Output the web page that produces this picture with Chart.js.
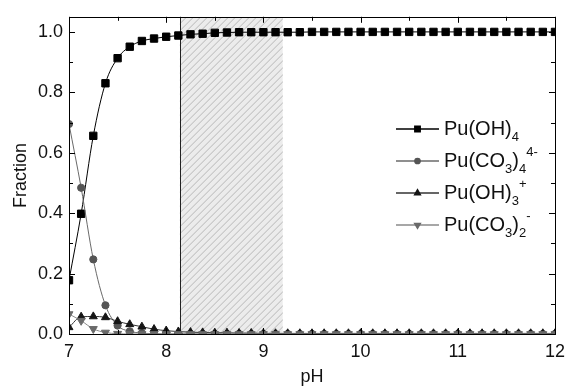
<!DOCTYPE html>
<html>
<head>
<meta charset="utf-8">
<script src="https://cdn.jsdelivr.net/npm/chart.js@4/dist/chart.umd.min.js"></script>
<style>
  html, body { margin: 0; padding: 0; background: #fff; }
</style>
</head>
<body>
<canvas id="specChart" width="572" height="386"></canvas>
<script>
// pH grid and species fractions
const pH = [
  7, 7.125, 7.25, 7.375, 7.5, 7.625, 7.75, 7.875,
  8, 8.125, 8.25, 8.375, 8.5, 8.625, 8.75, 8.875,
  9, 9.125, 9.25, 9.375, 9.5, 9.625, 9.75, 9.875,
  10, 10.125, 10.25, 10.375, 10.5, 10.625, 10.75, 10.875,
  11, 11.125, 11.25, 11.375, 11.5, 11.625, 11.75, 11.875,
  12
];
const puOH4 = [
  0.178, 0.398, 0.656, 0.830, 0.913, 0.951, 0.970, 0.978,
  0.984, 0.988, 0.992, 0.994, 0.997, 0.998, 0.999, 0.999,
  0.999, 0.999, 0.999, 0.999, 1.0, 1.0, 1.0, 1.0,
  1.0, 1.0, 1.0, 1.0, 1.0, 1.0, 1.0, 1.0,
  1.0, 1.0, 1.0, 1.0, 1.0, 1.0, 1.0, 1.0,
  1.0
];
const puCO3_4 = [
  0.695, 0.484, 0.247, 0.095, 0.028, 0.009, 0.003, 0.001,
  0, 0, 0, 0, 0, 0, 0, 0,
  0, 0, 0, 0, 0, 0, 0, 0,
  0, 0, 0, 0, 0, 0, 0, 0,
  0, 0, 0, 0, 0, 0, 0, 0,
  0
];
const puOH3 = [
  0.022, 0.057, 0.058, 0.055, 0.042, 0.032, 0.024, 0.016,
  0.011, 0.008, 0.006, 0.005, 0.004, 0.004, 0.003, 0.003,
  0.002, 0.002, 0.002, 0.002, 0.002, 0.002, 0.002, 0.002,
  0.002, 0.002, 0.002, 0.002, 0.002, 0.002, 0.002, 0.002,
  0.002, 0.002, 0.002, 0.002, 0.002, 0.002, 0.002, 0.002,
  0.002
];
const puCO3_2 = [
  0.066, 0.044, 0.017, 0.005, 0.001, 0, 0, 0,
  0, 0, 0, 0, 0, 0, 0, 0,
  0, 0, 0, 0, 0, 0, 0, 0,
  0, 0, 0, 0, 0, 0, 0, 0,
  0, 0, 0, 0, 0, 0, 0, 0,
  0
];
// legend text pieces: '_' = subscript, '^' = superscript
const legendLabels = [
  ['Pu(OH)', '_4'],
  ['Pu(CO', '_3', ')', '_4', '^4-'],
  ['Pu(OH)', '_3', '^+'],
  ['Pu(CO', '_3', ')', '_2', '^-']
];
// hatched pH window
const shadeFrom = 8.14;
const shadeTo = 9.2;

const FONT = "'Liberation Sans', Arial, sans-serif";
Chart.defaults.font.family = FONT;
Chart.defaults.font.size = 18;
Chart.defaults.color = '#111';

function series(ys) {
  return pH.map((x, i) => ({ x: x, y: ys[i] }));
}

const styles = [
  { style: 'rect',     radius: 5.2, rot: 0,   fill: '#000',    line: '#000' },
  { style: 'circle',   radius: 3.6, rot: 0,   fill: '#555',    line: '#6a6a6a' },
  { style: 'triangle', radius: 4.6, rot: 0,   fill: '#151515', line: '#333' },
  { style: 'triangle', radius: 4.6, rot: 180, fill: '#6a6a6a', line: '#8a8a8a' }
];
const values = [puOH4, puCO3_4, puOH3, puCO3_2];

const datasets = values.map((v, i) => ({
  label: legendLabels[i].join(''),
  data: series(v),
  borderColor: styles[i].line,
  borderWidth: 1,
  backgroundColor: styles[i].fill,
  pointStyle: styles[i].style,
  pointRadius: styles[i].radius,
  pointRotation: styles[i].rot,
  pointBorderColor: styles[i].fill,
  pointBackgroundColor: styles[i].fill,
  pointBorderWidth: 1,
  tension: 0.4,
  cubicInterpolationMode: 'monotone'
})).reverse();

// shaded window, frame and inward ticks
const framePlugin = {
  id: 'framePlugin',
  beforeDatasetsDraw(chart) {
    const { ctx, chartArea: a, scales: { x } } = chart;
    const l = x.getPixelForValue(shadeFrom), r = x.getPixelForValue(shadeTo);
    const h = a.bottom - a.top;
    ctx.save();
    ctx.beginPath();
    ctx.rect(l, a.top, r - l, h);
    ctx.clip();
    ctx.fillStyle = '#ececec';
    ctx.fillRect(l, a.top, r - l, h);
    ctx.strokeStyle = '#b8b8b8';
    ctx.lineWidth = 1;
    ctx.beginPath();
    for (let s = l - h; s < r; s += 7) {
      ctx.moveTo(s, a.bottom);
      ctx.lineTo(s + h, a.top);
    }
    ctx.stroke();
    ctx.restore();
    ctx.save();
    ctx.strokeStyle = '#222';
    ctx.lineWidth = 1;
    ctx.beginPath();
    ctx.moveTo(Math.round(l) + 0.5, a.top);
    ctx.lineTo(Math.round(l) + 0.5, a.bottom);
    ctx.stroke();
    ctx.restore();
  },
  afterDatasetsDraw(chart) {
    const { ctx, chartArea: a, scales: { x, y } } = chart;
    ctx.save();
    ctx.strokeStyle = '#000';
    ctx.lineWidth = 1;
    ctx.strokeRect(Math.round(a.left) + 0.5, Math.round(a.top) + 0.5,
      Math.round(a.right - a.left), Math.round(a.bottom - a.top));
    ctx.beginPath();
    const xt = x.ticks.map(t => t.value);
    xt.forEach((v, i) => {
      const marks = [[v, 6]];
      if (i < xt.length - 1) marks.push([(v + xt[i + 1]) / 2, 4]);
      marks.forEach(([val, len]) => {
        const px = Math.round(x.getPixelForValue(val)) + 0.5;
        ctx.moveTo(px, a.bottom); ctx.lineTo(px, a.bottom - len);
        ctx.moveTo(px, a.top); ctx.lineTo(px, a.top + len);
      });
    });
    const yt = y.ticks.map(t => t.value);
    yt.forEach((v, i) => {
      const marks = [[v, 6]];
      if (i < yt.length - 1) marks.push([(v + yt[i + 1]) / 2, 4]);
      marks.forEach(([val, len]) => {
        const py = Math.round(y.getPixelForValue(val)) + 0.5;
        ctx.moveTo(a.left, py); ctx.lineTo(a.left + len, py);
        ctx.moveTo(a.right, py); ctx.lineTo(a.right - len, py);
      });
    });
    ctx.stroke();
    ctx.restore();
  }
};

// legend with sub/superscripts
const legendPlugin = {
  id: 'chemLegend',
  afterDraw(chart) {
    const { ctx } = chart;
    const x0 = 396, x1 = 439, tx = 444, top = 129, gap = 32;
    legendLabels.forEach((parts, i) => {
      const st = styles[i];
      const yy = top + i * gap;
      ctx.save();
      ctx.strokeStyle = st.line;
      ctx.lineWidth = 1.3;
      ctx.beginPath();
      ctx.moveTo(x0, yy); ctx.lineTo(x1, yy);
      ctx.stroke();
      ctx.fillStyle = st.fill;
      ctx.strokeStyle = st.fill;
      Chart.helpers.drawPoint(ctx, {
        pointStyle: st.style, radius: st.radius * 0.75,
        rotation: st.rot, borderWidth: 1
      }, (x0 + x1) / 2, yy);
      ctx.fillStyle = '#111';
      ctx.textBaseline = 'middle';
      ctx.textAlign = 'left';
      let cx = tx;
      parts.forEach(p => {
        if (p[0] === '_') {
          ctx.font = '13px ' + FONT;
          ctx.fillText(p.slice(1), cx, yy + 8);
          cx += ctx.measureText(p.slice(1)).width;
        } else if (p[0] === '^') {
          ctx.font = '13px ' + FONT;
          ctx.fillText(p.slice(1), cx, yy - 9);
          cx += ctx.measureText(p.slice(1)).width;
        } else {
          ctx.font = '20px ' + FONT;
          ctx.fillText(p, cx, yy);
          cx += ctx.measureText(p).width;
        }
      });
      ctx.restore();
    });
  }
};

new Chart(document.getElementById('specChart'), {
  type: 'line',
  data: { datasets: datasets },
  options: {
    responsive: false,
    animation: false,
    events: [],
    layout: { padding: { top: 9, right: 16, left: 0, bottom: 0 } },
    plugins: { legend: { display: false }, tooltip: { enabled: false } },
    scales: {
      x: {
        type: 'linear',
        min: 7,
        max: 12,
        ticks: { stepSize: 1, padding: 7, maxRotation: 0 },
        grid: { display: false, drawTicks: false },
        border: { display: false },
        title: { display: true, text: 'pH', padding: { top: 0, bottom: -2 } },
        afterFit(s) { s.height = 52; }
      },
      y: {
        min: 0,
        max: 1.05,
        ticks: {
          stepSize: 0.2,
          includeBounds: false,
          padding: 6,
          callback: v => v.toFixed(1)
        },
        grid: { display: false, drawTicks: false },
        border: { display: false },
        title: { display: true, text: 'Fraction', padding: { top: 10, bottom: 4 } },
        afterFit(s) { s.width = 69; }
      }
    }
  },
  plugins: [framePlugin, legendPlugin]
});
</script>
</body>
</html>
